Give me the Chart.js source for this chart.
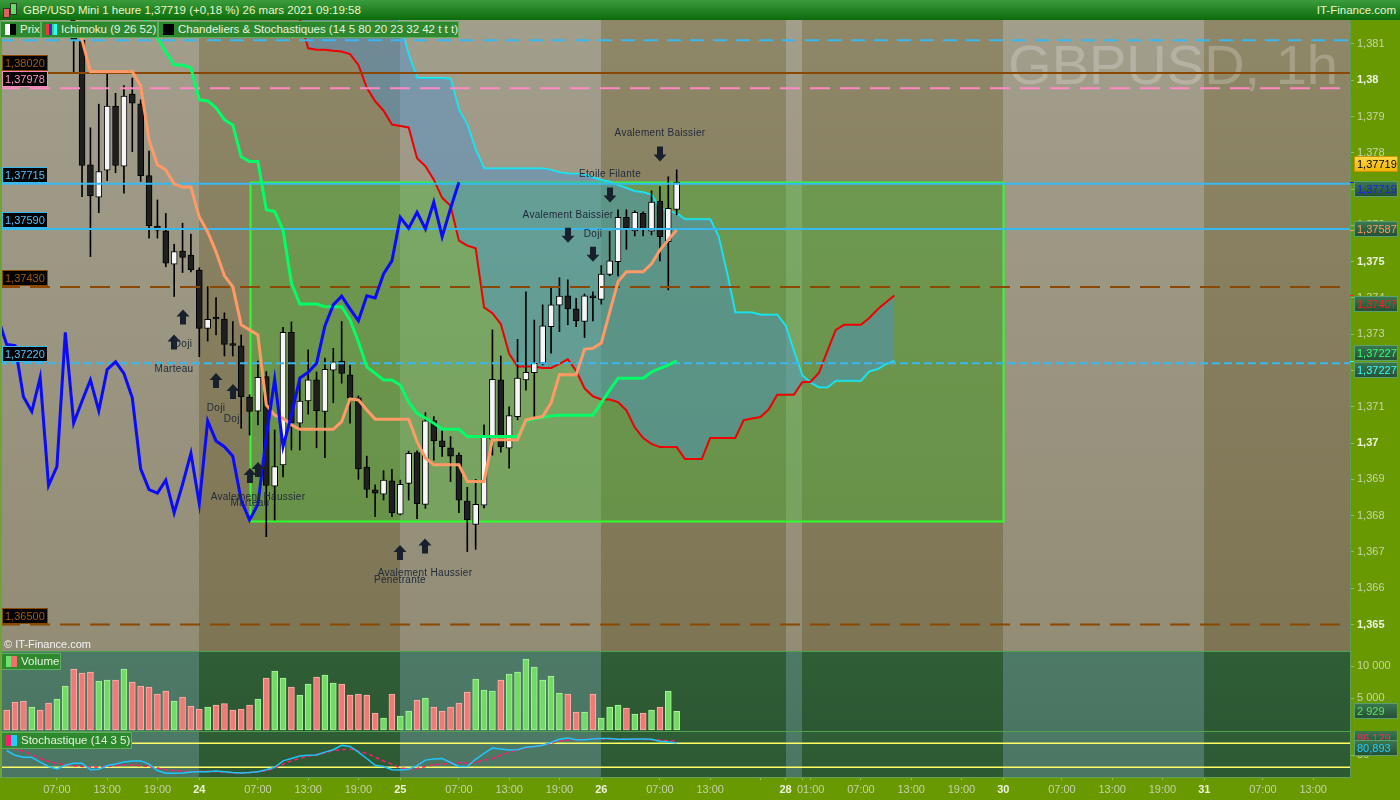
<!DOCTYPE html>
<html>
<head>
<meta charset="utf-8">
<script src="https://cdn.jsdelivr.net/npm/chart.js@4.4.0/dist/chart.umd.min.js"></script>
<style>
  html, body { margin: 0; padding: 0; }
  body { width: 1400px; height: 800px; position: relative; overflow: hidden; background: #689a00;
         font-family: 'Liberation Sans', Arial, sans-serif; }
  canvas { position: absolute; left: 0; }
  #title { position: absolute; left: 0; top: 0; width: 1400px; height: 20px;
           background: linear-gradient(#3a9c3a, #0c6c0c); color: #eef5c8; font-size: 11.5px; line-height: 20px; }
  #title .txt { position: absolute; left: 23px; top: 0; }
  #title .site { position: absolute; right: 4px; top: 0; }
  #title .ico { position: absolute; top: 3px; width: 5px; border: 1px solid #333; }
  .lg { position: absolute; height: 17px; top: 21px; background: #2e882e; border: 1px solid #5fae5f;
        box-sizing: border-box; color: #e8f2e0; font-size: 11.5px; line-height: 15px; white-space: nowrap; }
  .lg .sw { position: absolute; left: 4px; top: 2px; width: 11px; height: 11px; }
  .lg .t { position: absolute; left: 19px; top: 0; }
  #copy { position: absolute; left: 4px; top: 638px; color: #f2f2f2; font-size: 11px; }
  #edge { position: absolute; left: 0; top: 20px; width: 2px; height: 757px; background: #6ea33a; }
</style>
</head>
<body>
<canvas id="price" width="1400" height="631" style="top:20px"></canvas>
<canvas id="volume" width="1400" height="80" style="top:651px"></canvas>
<canvas id="stoch" width="1400" height="69" style="top:731px"></canvas>
<div id="edge"></div>

<div id="title">
  <div class="ico" style="left:3px;height:8px;top:8px;background:#e06060"></div>
  <div class="ico" style="left:10px;height:10px;top:3px;background:#60e060"></div>
  <span class="txt" id="titleText"></span>
  <span class="site">IT-Finance.com</span>
</div>
<div class="lg" style="left:0;width:41px">
  <div class="sw" style="background:linear-gradient(90deg,#fff 50%,#000 50%)"></div><span class="t">Prix</span>
</div>
<div class="lg" style="left:41px;width:117px">
  <div class="sw" style="background:linear-gradient(90deg,#ff3030 25%,#2030ff 25%,#2030ff 50%,#30e060 50%,#30e060 75%,#30ffff 75%)"></div><span class="t">Ichimoku (9 26 52)</span>
</div>
<div class="lg" style="left:158px;width:301px">
  <div class="sw" style="background:#000"></div><span class="t">Chandeliers &amp; Stochastiques (14 5 80 20 23 32 42 t t t)</span>
</div>
<div id="copy">© IT-Finance.com</div>
<div class="lg" style="left:1px;top:653px;width:60px">
  <div class="sw" style="background:linear-gradient(90deg,#6ee06e 50%,#f07070 50%)"></div><span class="t">Volume</span>
</div>
<div class="lg" style="left:1px;top:732px;width:131px">
  <div class="sw" style="background:linear-gradient(90deg,#ff1a6e 50%,#22ccff 50%)"></div><span class="t">Stochastique (14 3 5)</span>
</div>

<script>
// ---------- data (one hourly candle per slot, slot 0 = 23 mars 00:00) ----------
const firstSlot = 1;
const openP = [1.38420,1.38380,1.38320,1.38270,1.38310,1.38260,1.38220,1.38270,1.38300,1.38110,
  1.37767,1.37678,1.37752,1.37929,1.37763,1.37962,1.37935,1.37737,1.37598,1.37585,
  1.37493,1.37529,1.37518,1.37477,1.37316,1.37344,1.37342,1.37272,1.37268,1.37127,
  1.37088,1.37183,1.36881,1.36940,1.37305,1.37055,1.37116,1.37174,1.37087,1.37201,
  1.37226,1.37188,1.37125,1.36934,1.36871,1.36859,1.36896,1.36804,1.36889,1.36974,
  1.36831,1.37062,1.37006,1.36987,1.36967,1.36840,1.36776,1.36829,1.37011,1.37174,
  1.36986,1.37073,1.37174,1.37194,1.37220,1.37321,1.37380,1.37406,1.37370,1.37335,
  1.37403,1.37396,1.37465,1.37500,1.37622,1.37585,1.37633,1.37584,1.37667,1.37555,1.37644];
const highP = [1.38455,1.38400,1.38345,1.38500,1.38320,1.38280,1.38290,1.38533,1.38437,1.38115,
  1.37869,1.37934,1.38019,1.37964,1.37985,1.38006,1.37946,1.37805,1.37670,1.37633,
  1.37548,1.37606,1.37576,1.37483,1.37431,1.37401,1.37359,1.37335,1.37298,1.37133,
  1.37226,1.37197,1.37036,1.37319,1.37334,1.37182,1.37257,1.37196,1.37234,1.37261,
  1.37335,1.37215,1.37130,1.36964,1.36885,1.36924,1.36928,1.36898,1.36978,1.36979,
  1.37084,1.37073,1.37036,1.37018,1.36973,1.36878,1.36900,1.37050,1.37312,1.37240,
  1.37100,1.37286,1.37417,1.37339,1.37381,1.37429,1.37456,1.37450,1.37399,1.37411,
  1.37417,1.37489,1.37583,1.37643,1.37643,1.37640,1.37637,1.37695,1.37707,1.37734,1.37753];
const lowP = [1.38360,1.38300,1.38250,1.38250,1.38240,1.38200,1.38200,1.38240,1.38023,1.37679,
  1.37514,1.37635,1.37723,1.37745,1.37689,1.37803,1.37721,1.37565,1.37565,1.37486,
  1.37404,1.37470,1.37472,1.37238,1.37281,1.37298,1.37240,1.37240,1.37041,1.37022,
  1.37050,1.36742,1.36788,1.36907,1.36981,1.36981,1.37080,1.36987,1.36960,1.37111,
  1.37165,1.37055,1.36900,1.36850,1.36797,1.36843,1.36797,1.36802,1.36843,1.36792,
  1.36820,1.36953,1.36963,1.36894,1.36808,1.36701,1.36707,1.36821,1.36967,1.36975,
  1.36931,1.37064,1.37146,1.37064,1.37215,1.37248,1.37307,1.37326,1.37321,1.37291,
  1.37337,1.37383,1.37461,1.37461,1.37534,1.37571,1.37571,1.37574,1.37502,1.37422,1.37629];
const closeP = [1.38380,1.38320,1.38270,1.38310,1.38260,1.38220,1.38270,1.38300,1.38110,1.37765,
  1.37681,1.37748,1.37929,1.37765,1.37956,1.37937,1.37737,1.37599,1.37587,1.37496,
  1.37528,1.37512,1.37477,1.37316,1.37341,1.37342,1.37272,1.37269,1.37128,1.37087,
  1.37181,1.36883,1.36935,1.37305,1.37055,1.37116,1.37174,1.37089,1.37203,1.37224,
  1.37192,1.37125,1.36929,1.36872,1.36862,1.36898,1.36808,1.36886,1.36972,1.36833,
  1.37061,1.37006,1.36990,1.36964,1.36843,1.36788,1.36831,1.37017,1.37176,1.36990,
  1.37076,1.37179,1.37195,1.37220,1.37323,1.37381,1.37405,1.37370,1.37337,1.37406,
  1.37400,1.37466,1.37502,1.37622,1.37592,1.37636,1.37590,1.37664,1.37569,1.37647,1.37719];
const volume = [3125,4375,4531,3594,3125,4219,4844,6875,9531,8906,
  9063,7656,7813,7813,9531,7500,6875,6719,5625,6094,
  4531,5156,3750,3281,3594,3906,4115,3125,3281,3906,
  4844,8125,9219,8125,6719,5469,7188,8281,8594,7344,
  7188,5469,5625,5469,2656,1875,5625,2188,2969,4688,
  5000,3594,2969,3594,4219,5938,7969,6250,6094,7813,
  8750,9063,11094,9844,7813,8438,5781,5625,2813,2813,
  5625,1875,3594,3906,3438,2500,2656,3125,3594,6094,2929];
const stochK = [62,50,45,45,33,22,16,25,30,30,14,15,24,28,33,36,36,28,12,5,
  5,6,8,9,9,11,9,7,6,7,9,14,20,36,42,48,50,51,58,64,
  75,72,58,42,25,22,14,13,15,24,38,41,42,32,22,22,40,55,68,66,
  63,64,70,72,75,82,90,93,89,89,91,92,92,90,90,91,91,90,85,83,80.893];
const stochD = [75,66,60,52,42,35,30,26,24,22,21,21,22,24,26,26,24,22,18,14,
  12,10,9,10,10,9,8,6,5,7,9,11,18,28,36,42,48,52,56,62,
  64,66,60,55,45,36,28,18,16,17,22,27,28,30,32,30,32,38,42,50,
  58,63,68,72,76,80,85,88,89,90,91,91,91,91,91,90,90,89,88,86,86.129];

// Ichimoku lines, each from its first slot
const tenkanStart = 9;
const tenkan = [1.38200,1.38111,1.38024,1.38024,1.38024,1.38024,1.38024,1.38024,1.37984,1.37835,
  1.37767,1.37753,1.37714,1.37706,1.37706,1.37623,1.37582,1.37527,1.37461,1.37431,
  1.37326,1.37312,1.37298,1.37105,1.37077,1.37068,1.37050,1.37038,1.37038,1.37038,
  1.37038,1.37038,1.37059,1.37122,1.37119,1.37091,1.37066,1.37066,1.37066,1.37066,
  1.37066,1.37004,1.36959,1.36940,1.36940,1.36940,1.36940,1.36894,1.36894,1.36894,
  1.37009,1.37009,1.37009,1.37009,1.37064,1.37069,1.37073,1.37111,1.37188,1.37188,
  1.37188,1.37259,1.37261,1.37276,1.37361,1.37445,1.37472,1.37472,1.37472,1.37494,
  1.37532,1.37560,1.37587];
const kijunStart = 17;
const kijun = [1.38180,1.38152,1.38117,1.38078,1.38042,1.38042,1.38034,1.37946,1.37943,1.37924,
  1.37891,1.37877,1.37789,1.37776,1.37776,1.37643,1.37638,1.37587,1.37441,1.37383,
  1.37383,1.37383,1.37376,1.37376,1.37376,1.37339,1.37279,1.37210,1.37192,1.37174,
  1.37174,1.37160,1.37113,1.37082,1.37069,1.37055,1.37038,1.37038,1.37038,1.37018,
  1.37018,1.37018,1.37018,1.37018,1.37018,1.37018,1.37061,1.37066,1.37071,1.37075,
  1.37077,1.37077,1.37077,1.37077,1.37077,1.37111,1.37146,1.37179,1.37179,1.37179,
  1.37179,1.37196,1.37206,1.37215,1.37227];
const senkouStart = 36;
const senkouA = [1.38170,1.38088,1.38084,1.38084,1.38081,1.38079,1.38072,1.38042,1.37979,1.37942,
  1.37916,1.37878,1.37874,1.37870,1.37785,1.37763,1.37726,1.37676,1.37654,1.37558,
  1.37544,1.37537,1.37374,1.37358,1.37328,1.37246,1.37211,1.37211,1.37211,1.37207,
  1.37207,1.37218,1.37231,1.37199,1.37151,1.37129,1.37120,1.37120,1.37113,1.37090,
  1.37043,1.37014,1.36998,1.36989,1.36989,1.36989,1.36956,1.36956,1.36956,1.37014,
  1.37014,1.37014,1.37014,1.37063,1.37068,1.37072,1.37093,1.37133,1.37133,1.37133,
  1.37168,1.37169,1.37194,1.37254,1.37312,1.37326,1.37326,1.37326,1.37345,1.37369,
  1.37388,1.37407];
const senkouB = [1.38350,1.38350,1.38350,1.38350,1.38350,1.38350,1.38350,1.38350,1.38350,1.38350,
  1.38350,1.38250,1.38152,1.38070,1.38006,1.38006,1.38006,1.38006,1.38004,1.37918,
  1.37877,1.37808,1.37757,1.37757,1.37757,1.37757,1.37757,1.37757,1.37757,1.37757,
  1.37753,1.37746,1.37743,1.37742,1.37741,1.37732,1.37725,1.37720,1.37711,1.37703,
  1.37694,1.37691,1.37684,1.37648,1.37640,1.37633,1.37617,1.37617,1.37617,1.37617,
  1.37569,1.37470,1.37360,1.37360,1.37360,1.37354,1.37354,1.37354,1.37324,1.37253,
  1.37186,1.37167,1.37154,1.37154,1.37172,1.37172,1.37172,1.37172,1.37198,1.37204,
  1.37218,1.37227];
const chikouShift = 26;

// horizontal levels drawn by the user
const levelPrices = [1.38110, 1.38020, 1.37978, 1.37715, 1.37590, 1.37430, 1.37220, 1.36500];
// green zone
const zoneSlots = [30, 120];
const zonePrices = [1.36785, 1.37719];

// candle pattern markers
const patternCandle = [21, 22, 26, 28, 30, 31, 48, 51, 68, 71, 73, 79];
const patternName = ['Marteau', 'Doji', 'Doji', 'Doji', 'Marteau', 'Avalement Haussier', 'Penetrante',
  'Avalement Haussier', 'Avalement Baissier', 'Doji', 'Etoile Filante', 'Avalement Baissier'];
const patternBull = [true, true, true, true, true, true, true, true, false, false, false, false];

// time axis: day bands and tick labels (weekend removed: 26 22:00 -> 28 22:00)
const dayStarts = [0, 24, 48, 72, 94, 96, 120, 144, 168];
const dayLight = [true, false, true, false, true, false, true, false];
const xTickSlots = [7, 13, 19, 24, 31, 37, 43, 48, 55, 61, 67, 72, 79, 85, 91, 94, 96, 97, 103, 109, 115,
  120, 127, 133, 139, 144, 151, 157];
const xTickLabels = ['07:00', '13:00', '19:00', '24', '07:00', '13:00', '19:00', '25', '07:00', '13:00',
  '19:00', '26', '07:00', '13:00', '', '28', '', '01:00', '07:00', '13:00', '19:00', '30', '07:00',
  '13:00', '19:00', '31', '07:00', '13:00'];
const priceTicks = [1.365, 1.366, 1.367, 1.368, 1.369, 1.370, 1.371, 1.372, 1.373, 1.374, 1.375,
  1.376, 1.377, 1.378, 1.379, 1.380, 1.381];
const volumeTicks = [5000, 10000];
const stochTicks = [50];
const stochLevels = [80, 20];

// ---------- styles ----------
const FONT = "'Liberation Sans', Arial, sans-serif";
const X_MIN = 0.203, X_MAX = 161.4;
const PRICE_MIN = 1.36427, PRICE_MAX = 1.38166;
const levelColor = ['#38b8f0', '#8a4800', '#ff88c4', '#38b8f0', '#38b8f0', '#8a4800', '#38b8f0', '#8a4800'];
const levelText = ['#4cc4ff', '#a05a10', '#ff90cc', '#4cc4ff', '#4cc4ff', '#a05a10', '#4cc4ff', '#a05a10'];
const levelDash = [[14, 9], [], [20, 10], [], [], [20, 10], [8, 4], [20, 10]];
const levelLabel = [false, true, true, true, true, true, true, true];
// pixel gap between the candle extreme and its pattern arrow
const patternGap = [38, 37, 38, 28, 33, 37, 30, 30, 37, 30, 29, 25];

const slots = openP.map((_, k) => firstSlot + k);
const last = closeP.length - 1;
const series = (start, arr) => arr.map((v, k) => ({ x: start + k, y: v }));
const bull = k => closeP[k] >= openP[k];
const fmt = (v, d) => v.toFixed(d).replace('.', ',');
const fmtTick = v => v.toFixed(3).replace(/0+$/, '').replace(/\.$/, '').replace('.', ',');
const fmtThousands = v => String(Math.round(v)).replace(/\B(?=(\d{3})+(?!\d))/g, ' ');
const isMajor = c => !!(c && c.tick) && Math.abs(c.tick.value * 200 - Math.round(c.tick.value * 200)) < 1e-6;
const isDayLabel = c => !!c && /^\d\d$/.test(xTickLabels[c.index] || '');

document.getElementById('titleText').textContent =
  'GBP/USD Mini 1 heure ' + fmt(closeP[last], 5) + ' (+0,18 %) 26 mars 2021 09:19:58';

function xAxis(show) {
  return {
    type: 'linear', min: X_MIN, max: X_MAX, bounds: 'data', offset: false, display: show,
    grid: { display: false }
  };
}
function rightAxis(min, max, ticks, label, tickOpts) {
  return {
    type: 'linear', position: 'right', min: min, max: max, bounds: 'data', beginAtZero: false,
    afterBuildTicks: s => { s.ticks = ticks.map(v => ({ value: v })); },
    afterFit: s => { s.width = 50; s.paddingTop = 0; s.paddingBottom = 0; },
    grid: { drawOnChartArea: false, tickLength: 4, color: '#8dbd6c' },
    border: { display: true, color: '#5f9f52' },
    ticks: Object.assign({ padding: 3, color: '#c9d3ae', font: { family: FONT, size: 11 }, callback: label }, tickOpts || {})
  };
}

function boxRect(ctx, x, y, w, h) { ctx.fillRect(x, y, w, h); ctx.strokeRect(x + 0.5, y + 0.5, w - 1, h - 1); }
function valueBox(ctx, y, text, fg, bg, border) {
  const x = 1354, w = 44, h = 16, top = Math.round(y - h / 2);
  const g = ctx.createLinearGradient(0, top, 0, top + h);
  g.addColorStop(0, bg[0]); g.addColorStop(1, bg[1]);
  ctx.fillStyle = g;
  ctx.strokeStyle = border; ctx.lineWidth = 1;
  boxRect(ctx, x, top, w, h);
  ctx.fillStyle = fg; ctx.font = '11px ' + FONT; ctx.textAlign = 'left'; ctx.textBaseline = 'middle';
  ctx.fillText(text, x + 3, top + h / 2 + 0.5);
}

function bandsPlugin(light, dark) {
  return {
    id: 'bands',
    beforeDraw(chart) {
      const { ctx, chartArea: a, scales: { x } } = chart;
      ctx.save();
      for (let i = 0; i < dayLight.length; i++) {
        const x0 = Math.max(a.left, Math.round(x.getPixelForValue(dayStarts[i])));
        const x1 = Math.min(a.right, Math.round(x.getPixelForValue(dayStarts[i + 1])));
        if (x1 <= x0) continue;
        const c = dayLight[i] ? light : dark;
        const g = ctx.createLinearGradient(0, a.top, 0, a.bottom);
        g.addColorStop(0, c[0]); g.addColorStop(1, c[1]);
        ctx.fillStyle = g;
        ctx.fillRect(x0, a.top, x1 - x0, a.bottom - a.top);
      }
      ctx.restore();
    }
  };
}

function upArrow(ctx, cx, top) {
  ctx.beginPath();
  ctx.moveTo(cx, top); ctx.lineTo(cx + 6.5, top + 7); ctx.lineTo(cx + 3, top + 7); ctx.lineTo(cx + 3, top + 15);
  ctx.lineTo(cx - 3, top + 15); ctx.lineTo(cx - 3, top + 7); ctx.lineTo(cx - 6.5, top + 7);
  ctx.closePath(); ctx.fill();
}
function downArrow(ctx, cx, bottom) {
  ctx.beginPath();
  ctx.moveTo(cx, bottom); ctx.lineTo(cx + 6.5, bottom - 7); ctx.lineTo(cx + 3, bottom - 7); ctx.lineTo(cx + 3, bottom - 15);
  ctx.lineTo(cx - 3, bottom - 15); ctx.lineTo(cx - 3, bottom - 7); ctx.lineTo(cx - 6.5, bottom - 7);
  ctx.closePath(); ctx.fill();
}

const priceExtras = {
  id: 'priceExtras',
  beforeDatasetsDraw(chart) {
    const { ctx, chartArea: a, scales: { x, y } } = chart;
    ctx.save();
    ctx.beginPath(); ctx.rect(a.left, a.top, a.right - a.left, a.bottom - a.top); ctx.clip();
    // watermark
    ctx.fillStyle = 'rgba(255,255,255,0.22)';
    ctx.font = '56px ' + FONT; ctx.textAlign = 'right'; ctx.textBaseline = 'alphabetic';
    ctx.fillText('GBPUSD, 1h', 1338, 64);
    // green zone
    const x0 = Math.round(x.getPixelForValue(zoneSlots[0])) + 0.5, x1 = Math.round(x.getPixelForValue(zoneSlots[1])) + 0.5;
    const y0 = Math.round(y.getPixelForValue(zonePrices[1])) + 0.5, y1 = Math.round(y.getPixelForValue(zonePrices[0])) + 0.5;
    ctx.fillStyle = 'rgba(60,195,45,0.34)';
    ctx.fillRect(x0, y0, x1 - x0, y1 - y0);
    ctx.strokeStyle = '#2cff2c'; ctx.lineWidth = 2;
    ctx.strokeRect(x0, y0, x1 - x0, y1 - y0);
    ctx.restore();
  },
  afterDatasetsDraw(chart) {
    const { ctx, scales: { x, y } } = chart;
    ctx.save();
    // pattern arrows and names
    ctx.font = '10px ' + FONT; ctx.textAlign = 'center'; ctx.textBaseline = 'middle';
    if ('letterSpacing' in ctx) ctx.letterSpacing = '0.3px';
    patternCandle.forEach((c, i) => {
      const k = c - firstSlot, cx = Math.round(x.getPixelForValue(c));
      ctx.fillStyle = '#18202e';
      if (patternBull[i]) {
        const top = y.getPixelForValue(lowP[k]) + patternGap[i];
        upArrow(ctx, cx, top);
        ctx.fillStyle = '#222b3a';
        ctx.fillText(patternName[i], cx, top + 35);
      } else {
        const bottom = y.getPixelForValue(highP[k]) - patternGap[i];
        downArrow(ctx, cx, bottom);
        ctx.fillStyle = '#222b3a';
        ctx.fillText(patternName[i], cx, bottom - 28);
      }
    });
    if ('letterSpacing' in ctx) ctx.letterSpacing = '0px';
    // level labels on the left, stacked upwards when they collide
    let limit = Infinity;
    const order = levelPrices.map((p, i) => i).sort((a, b) => levelPrices[a] - levelPrices[b]);
    ctx.font = '11px ' + FONT; ctx.textAlign = 'left';
    order.forEach(i => {
      if (!levelLabel[i]) return;
      let bottom = Math.round(y.getPixelForValue(levelPrices[i])) - 1;
      if (bottom > limit) bottom = limit;
      const top = bottom - 16;
      ctx.fillStyle = '#000'; ctx.strokeStyle = levelColor[i]; ctx.lineWidth = 1;
      boxRect(ctx, 2, top, 46, 16);
      ctx.fillStyle = levelText[i];
      ctx.fillText(fmt(levelPrices[i], 5), 5, top + 8.5);
      limit = top;
    });
    ctx.restore();
  },
  afterDraw(chart) {
    const { ctx, scales: { y } } = chart;
    ctx.save();
    const boxes = [
      [closeP[last], '#000', ['#ffd84a', '#f0b400'], '#c89400', -18],
      [closeP[last], '#1a1aff', ['#3c7a52', '#234d33'], '#5aa06a', 7],
      [tenkan[tenkan.length - 1], '#ff9966', ['#3c7a52', '#234d33'], '#5aa06a', -1],
      [senkouA[senkouA.length - 1], '#ff2020', ['#3c7a52', '#234d33'], '#5aa06a', 9],
      [kijun[kijun.length - 1], '#33ff77', ['#3c7a52', '#234d33'], '#5aa06a', -8],
      [senkouB[senkouB.length - 1], '#33ffff', ['#3c7a52', '#234d33'], '#5aa06a', 9]
    ];
    boxes.forEach(b => {
      const py = y.getPixelForValue(b[0]);
      ctx.fillStyle = b[1]; ctx.fillRect(1350, Math.round(py), 4, 1);
      valueBox(ctx, py + b[4], fmt(b[0], 5), b[1], b[2], b[3]);
    });
    ctx.restore();
  }
};

const common = {
  responsive: false, animation: false, devicePixelRatio: 1, events: [],
  layout: { padding: 0 },
  plugins: { legend: { display: false }, tooltip: { enabled: false } }
};

// ---------- price pane ----------
const lineDs = (data, color, width, order, extra) => Object.assign({
  type: 'line', data: data, borderColor: color, borderWidth: width, pointRadius: 0, tension: 0,
  fill: false, order: order
}, extra || {});

const priceDatasets = [];
levelPrices.forEach((p, i) => {
  priceDatasets.push(lineDs([{ x: X_MIN, y: p }, { x: X_MAX, y: p }], levelColor[i], 2, 2,
    { borderDash: levelDash[i] }));
});
priceDatasets.push(lineDs(series(senkouStart, senkouA), '#f00000', 2, 6,
  { fill: { target: '+1', above: 'rgba(70,145,215,0.42)', below: 'rgba(70,145,215,0.42)' } }));
priceDatasets.push(lineDs(series(senkouStart, senkouB), '#10f4f4', 2, 6));
priceDatasets.push({
  type: 'bar', data: slots.map((s, k) => ({ x: s, y: [lowP[k], highP[k]] })),
  backgroundColor: '#000', barThickness: 1, grouped: false, order: 5
});
priceDatasets.push({
  type: 'bar', data: slots.map((s, k) => ({ x: s, y: [openP[k], closeP[k]] })),
  backgroundColor: slots.map((s, k) => bull(k) ? '#f6f6f6' : '#1f1f1f'),
  borderColor: '#000', borderWidth: 1, borderSkipped: false, barThickness: 6, minBarLength: 2,
  grouped: false, order: 4
});
priceDatasets.push(lineDs(series(tenkanStart, tenkan), '#ff9966', 3, 1));
priceDatasets.push(lineDs(series(kijunStart, kijun), '#00ff66', 3, 1));
priceDatasets.push(lineDs(slots.map((s, k) => ({ x: s - chikouShift, y: closeP[k] })).filter(p => p.x >= 0),
  '#0a0aff', 3, 0));

new Chart(document.getElementById('price'), {
  type: 'line',
  data: { datasets: priceDatasets },
  options: Object.assign({}, common, {
    scales: {
      x: xAxis(false),
      y: rightAxis(PRICE_MIN, PRICE_MAX, priceTicks, v => fmtTick(v), {
        color: c => isMajor(c) ? '#eef2e0' : '#c9d3ae',
        font: c => ({ family: FONT, size: 11, weight: isMajor(c) ? 'bold' : 'normal' })
      })
    }
  }),
  plugins: [bandsPlugin(['#a29e8c', '#938d76'], ['#8e8768', '#7d7554']), priceExtras]
});

// ---------- volume pane ----------
new Chart(document.getElementById('volume'), {
  type: 'bar',
  data: {
    datasets: [{
      type: 'bar', data: slots.map((s, k) => ({ x: s, y: volume[k] })),
      backgroundColor: slots.map((s, k) => bull(k) ? '#74da66' : '#ee7b76'),
      borderColor: slots.map((s, k) => bull(k) ? '#a8f59a' : '#ffb0aa'),
      borderWidth: 1, borderSkipped: false, barThickness: 6, grouped: false
    }]
  },
  options: Object.assign({}, common, {
    scales: { x: xAxis(false), y: rightAxis(-156, 12344, volumeTicks, v => fmtThousands(v)) }
  }),
  plugins: [bandsPlugin(['#4d7a67', '#4a7563'], ['#2f5e36', '#2c5832']), {
    id: 'volExtras',
    afterDraw(chart) {
      const { ctx, chartArea: a, scales: { y } } = chart;
      ctx.save();
      ctx.fillStyle = '#4fa34f'; ctx.fillRect(0, 0, a.right, 1);
      valueBox(ctx, y.getPixelForValue(volume[last]), fmtThousands(volume[last]), '#5fe05f', ['#3c7a52', '#234d33'], '#5aa06a');
      ctx.restore();
    }
  }]
});

// ---------- stochastic pane + time axis ----------
new Chart(document.getElementById('stoch'), {
  type: 'line',
  data: {
    datasets: [
      lineDs([{ x: X_MIN, y: stochLevels[0] }, { x: X_MAX, y: stochLevels[0] }], '#ffff66', 1.5, 3),
      lineDs([{ x: X_MIN, y: stochLevels[1] }, { x: X_MAX, y: stochLevels[1] }], '#ffff66', 1.5, 3),
      lineDs(series(firstSlot, stochD), '#ff1a6e', 1.5, 1, { borderDash: [4, 3] }),
      lineDs(series(firstSlot, stochK), '#22c4ff', 1.5, 0)
    ]
  },
  options: Object.assign({}, common, {
    scales: {
      x: {
        type: 'linear', min: X_MIN, max: X_MAX, bounds: 'data', offset: false, position: 'bottom',
        afterBuildTicks: s => { s.ticks = xTickSlots.map(v => ({ value: v })); },
        afterFit: s => { s.height = 23; s.paddingLeft = 0; s.paddingRight = 0; },
        grid: { drawOnChartArea: false, tickLength: 3, color: '#8dbd6c', offset: false },
        border: { display: true, color: '#62a357' },
        ticks: {
          autoSkip: false, maxRotation: 0, minRotation: 0, padding: 3,
          callback: (v, i) => xTickLabels[i],
          color: c => isDayLabel(c) ? '#eef2dc' : '#c7d0ac',
          font: c => ({ family: FONT, size: 11, weight: isDayLabel(c) ? 'bold' : 'normal' })
        }
      },
      y: rightAxis(-4.25, 110.75, stochTicks, v => String(v))
    }
  }),
  plugins: [bandsPlugin(['#4d7a67', '#4a7563'], ['#2f5e36', '#2c5832']), {
    id: 'stochExtras',
    afterDraw(chart) {
      const { ctx, chartArea: a, scales: { y } } = chart;
      ctx.save();
      ctx.fillStyle = '#4fa34f'; ctx.fillRect(0, 0, a.right, 1);
      valueBox(ctx, y.getPixelForValue(stochD[last]) - 3, fmt(stochD[last], 3), '#ff2a6a', ['#3c7a52', '#234d33'], '#5aa06a');
      valueBox(ctx, y.getPixelForValue(stochK[last]) + 5, fmt(stochK[last], 3), '#22ccff', ['#3c7a52', '#234d33'], '#5aa06a');
      ctx.restore();
    }
  }]
});
</script>
</body>
</html>
